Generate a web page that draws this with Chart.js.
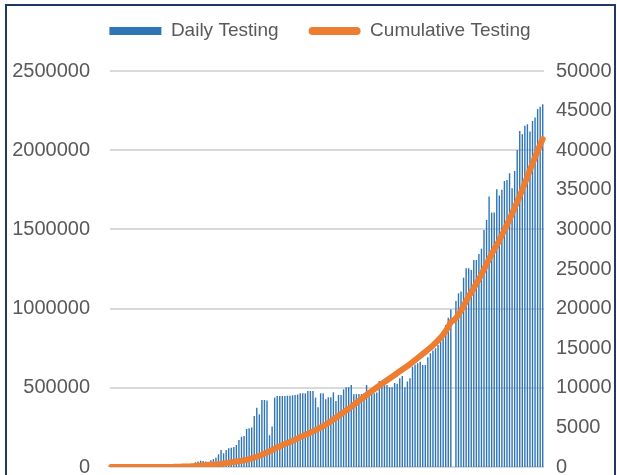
<!DOCTYPE html>
<html>
<head>
<meta charset="utf-8">
<script src="https://cdn.jsdelivr.net/npm/chart.js@4.4.1/dist/chart.umd.min.js"></script>
<style>
  html, body { margin: 0; padding: 0; background: #fff; overflow: hidden; }
  #wrap { position: relative; width: 617px; height: 475px; overflow: hidden; }
  #chart { position: absolute; left: 0; top: 0; }
  #frame { position: absolute; left: 5px; top: 4px; width: 611px; height: 560px;
           border: 2px solid #1f3864; box-sizing: border-box; pointer-events: none; }
</style>
</head>
<body>
<div id="wrap">
  <canvas id="chart" width="617" height="520"></canvas>
  <div id="frame"></div>
</div>
<script>

const seriesNames = ["Daily Testing", "Cumulative Testing"];

// daily tests per day (right axis)
const dailyTesting = [
  0, 0, 0, 0, 0, 0, 0, 0, 0, 0,
  0, 0, 0, 0, 0, 0, 0, 0, 0, 0,
  0, 0, 0, 0, 0, 0, 0, 0, 0, 0,
  0, 0, 0, 600, 700, 800, 750, 700, 670, 850,
  1000, 1180, 1600, 2150, 1730, 2150, 2360, 2440, 2520, 2780,
  3400, 3830, 3900, 4800, 4880, 5000, 6440, 7490, 6650, 8460,
  8460, 8400, 4000, 5100, 8760, 8970, 8970, 8970, 8970, 9000,
  9000, 9050, 9100, 9150, 9300, 9300, 9300, 9600, 9600, 9600,
  8760, 7540, 9300, 9300, 8550, 8800, 8800, 9430, 8340, 9090,
  9100, 9800, 10070, 10070, 10350, 9180, 9200, 9220, 9220, 9300,
  10350, 9220, 9220, 9300, 9400, 10860, 10600, 10350, 10350, 10070,
  10070, 10600, 10500, 11200, 11500, 10070, 10800, 11200, 12670, 12900,
  13100, 13300, 12880, 12880, 13850, 14360, 14700, 15000, 15400, 15830,
  16250, 17940, 18860, 19900, 0, 20960, 21930, 22150, 23900, 25100,
  25100, 24880, 26140, 26140, 26900, 27570, 29930, 31200, 34140, 32120,
  32120, 35070, 34270, 35000, 36120, 36250, 37100, 35200, 37380, 40040,
  42440, 42020, 43100, 43280, 42350, 43700, 44120, 45200, 45500, 45800
];

// running total (left axis)
const cumulativeTesting = [
  0, 0, 0, 0, 0, 0, 0, 0, 0, 0,
  0, 0, 0, 0, 0, 0, 0, 0, 0, 0,
  0, 0, 0, 0, 0, 1000, 1500, 2000, 2500, 3000,
  3500, 4000, 5000, 7000, 8000, 9000, 10200, 11300, 12500, 13700,
  15000, 16400, 18000, 19600, 22000, 24500, 27000, 29500, 32000, 34500,
  37000, 39500, 42500, 45500, 49000, 54000, 59000, 65000, 71000, 77500,
  84500, 92000, 99000, 107000, 115000, 123000, 131000, 138000, 145000, 151500,
  158000, 165000, 172500, 180500, 189000, 196000, 203000, 210000, 217000, 225000,
  233000, 241000, 249000, 258000, 268000, 278000, 289000, 300000, 311000, 322000,
  334000, 345000, 357000, 368000, 380000, 392000, 405000, 417000, 430000, 442000,
  455000, 467000, 479000, 491000, 502000, 514000, 525000, 537000, 548000, 559000,
  570000, 581000, 593000, 604000, 615000, 627000, 638000, 649000, 662000, 675000,
  688000, 701000, 714000, 727000, 740000, 753000, 768000, 784000, 800000, 817000,
  836000, 858000, 885000, 915000, 925000, 940000, 962000, 988000, 1017000, 1046000,
  1077000, 1104000, 1131000, 1158000, 1186000, 1216000, 1248000, 1280000, 1312000, 1345000,
  1374000, 1402000, 1430000, 1463000, 1496000, 1530000, 1564000, 1600000, 1636000, 1673000,
  1712000, 1751000, 1792000, 1834000, 1876000, 1915000, 1957000, 1995000, 2035000, 2070000
];

const leftTicks = [0, 500000, 1000000, 1500000, 2000000, 2500000];
const rightTicks = [0, 5000, 10000, 15000, 20000, 25000, 30000, 35000, 40000, 45000, 50000];

const days = dailyTesting.map((v, i) => "Day " + (i + 1));

const blue = "#2E75B6";
const orange = "#ED7D31";
const textGray = "#595959";

Chart.defaults.font.family = "'Liberation Sans', Arial, sans-serif";

// legend: extra room below it, then nudge it into place
const legendPlace = {
  id: "legendPlace",
  beforeInit(chart){
    const fit = chart.legend.fit;
    chart.legend.fit = function(){
      fit.call(this);
      this.height += 12;
    };
  },
  afterLayout(chart){
    const lg = chart.legend;
    lg.left += 11.5;
    lg.right += 11.5;
    lg.top -= 8.5;
    lg.bottom -= 8.5;
  }
};

new Chart(document.getElementById("chart"), {
  type: "bar",
  data: {
    labels: days,
    datasets: [
      {
        type: "line",
        label: seriesNames[1],
        data: cumulativeTesting,
        yAxisID: "y",
        borderColor: orange,
        backgroundColor: orange,
        borderWidth: 6,
        pointRadius: 0,
        borderCapStyle: "round",
        borderJoinStyle: "round",
        tension: 0,
        order: 0
      },
      {
        type: "bar",
        label: seriesNames[0],
        data: dailyTesting,
        yAxisID: "y1",
        backgroundColor: blue,
        barPercentage: 0.55,
        categoryPercentage: 1,
        order: 1
      }
    ]
  },
  options: {
    responsive: false,
    animation: false,
    devicePixelRatio: 1,
    layout: { padding: { top: 0, left: 0, right: 0, bottom: 53 } },
    plugins: {
      tooltip: { enabled: false },
      legend: {
        position: "top",
        labels: {
          boxWidth: 52,
          boxHeight: 8,
          padding: 30,
          color: textGray,
          font: { size: 19 },
          generateLabels: () => [
            { text: seriesNames[0], fillStyle: blue, strokeStyle: blue, lineWidth: 0, hidden: false, datasetIndex: 1, fontColor: textGray },
            { text: seriesNames[1], fillStyle: orange, strokeStyle: orange, lineWidth: 0, hidden: false, datasetIndex: 0, fontColor: textGray, borderRadius: 4 }
          ]
        }
      }
    },
    scales: {
      x: { display: false },
      y: {
        position: "left",
        min: leftTicks[0],
        max: leftTicks[leftTicks.length - 1],
        ticks: {
          stepSize: leftTicks[1] - leftTicks[0],
          padding: 20,
          color: textGray,
          font: { size: 20 },
          callback: v => String(v)
        },
        grid: { color: "#d9d9d9", lineWidth: 2, drawTicks: false },
        border: { display: false },
        afterFit: s => { s.width = 110; }
      },
      y1: {
        position: "right",
        min: rightTicks[0],
        max: rightTicks[rightTicks.length - 1],
        ticks: {
          stepSize: rightTicks[1] - rightTicks[0],
          padding: 12,
          color: textGray,
          font: { size: 20 },
          callback: v => String(v)
        },
        grid: { display: false, drawTicks: false },
        border: { display: false },
        afterFit: s => { s.width = 73; }
      }
    }
  },
  plugins: [legendPlace]
});

</script>
</body>
</html>
